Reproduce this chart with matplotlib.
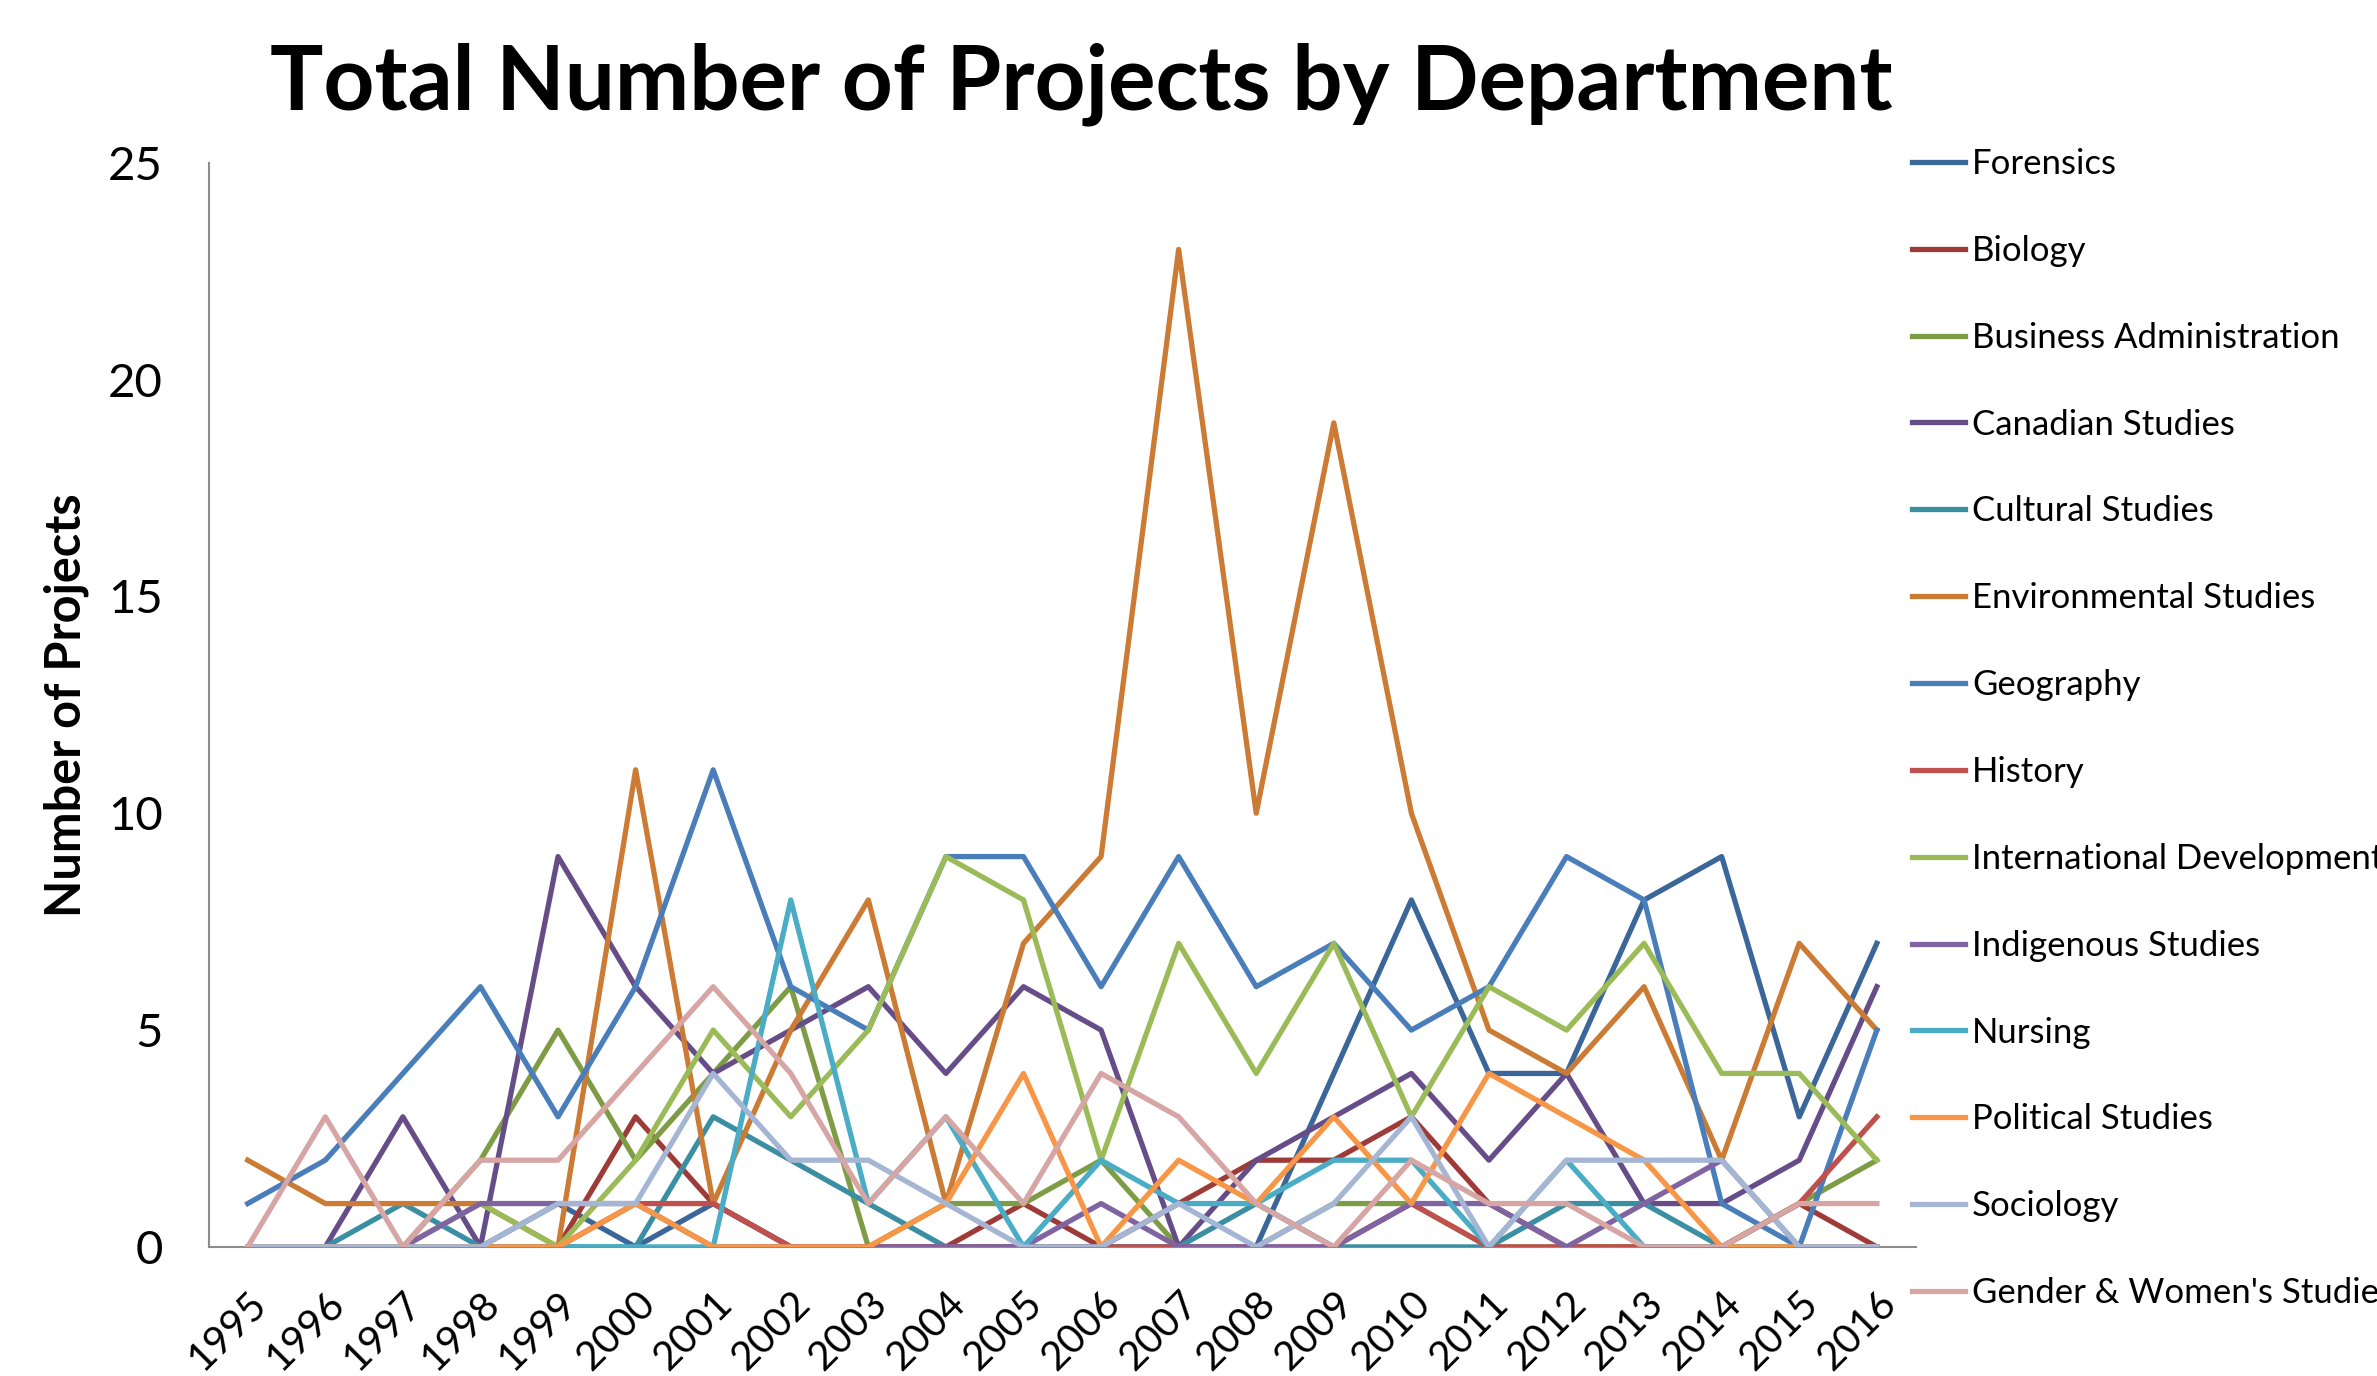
import numpy as np
import matplotlib.pyplot as plt

plt.rcParams['font.family'] = ['Lato', 'DejaVu Sans']

# Years on the category axis
years = ['1995', '1996', '1997', '1998', '1999', '2000', '2001', '2002', '2003', '2004', '2005',
         '2006', '2007', '2008', '2009', '2010', '2011', '2012', '2013', '2014', '2015', '2016']

# Number of projects per department
forensics     = [0, 0, 0, 0, 1, 0, 1, 0, 0, 0, 0, 0, 0, 0, 4, 8, 4, 4, 8, 9, 3, 7]
biology       = [0, 0, 0, 0, 0, 3, 1, 0, 0, 0, 1, 0, 1, 2, 2, 3, 1, 0, 0, 0, 1, 0]
business      = [0, 0, 0, 2, 5, 2, 4, 6, 0, 1, 1, 2, 0, 0, 1, 1, 0, 0, 0, 0, 1, 2]
canadian      = [0, 0, 3, 0, 9, 6, 4, 5, 6, 4, 6, 5, 0, 2, 3, 4, 2, 4, 1, 1, 2, 6]
cultural      = [0, 0, 1, 0, 0, 0, 3, 2, 1, 0, 0, 0, 0, 1, 0, 0, 0, 1, 1, 0, 0, 0]
environmental = [2, 1, 1, 1, 0, 11, 1, 5, 8, 1, 7, 9, 23, 10, 19, 10, 5, 4, 6, 2, 7, 5]
geography     = [1, 2, 4, 6, 3, 6, 11, 6, 5, 9, 9, 6, 9, 6, 7, 5, 6, 9, 8, 1, 0, 5]
history       = [0, 0, 0, 0, 0, 1, 1, 0, 0, 0, 0, 0, 0, 0, 0, 1, 0, 0, 0, 0, 1, 3]
intl_dev      = [0, 0, 0, 1, 0, 2, 5, 3, 5, 9, 8, 2, 7, 4, 7, 3, 6, 5, 7, 4, 4, 2]
indigenous    = [0, 0, 0, 1, 1, 1, 0, 0, 0, 0, 0, 1, 0, 0, 0, 1, 1, 0, 1, 2, 0, 0]
nursing       = [0, 0, 0, 0, 0, 0, 0, 8, 1, 3, 0, 2, 1, 1, 2, 2, 0, 2, 0, 0, 0, 0]
political     = [0, 0, 0, 0, 0, 1, 0, 0, 0, 1, 4, 0, 2, 1, 3, 1, 4, 3, 2, 0, 0, 0]
sociology     = [0, 0, 0, 0, 1, 1, 4, 2, 2, 1, 0, 0, 1, 0, 1, 3, 0, 2, 2, 2, 0, 0]
gender        = [0, 3, 0, 2, 2, 4, 6, 4, 1, 3, 1, 4, 3, 1, 0, 2, 1, 1, 0, 0, 1, 1]

departments = ['Forensics', 'Biology', 'Business Administration', 'Canadian Studies',
               'Cultural Studies', 'Environmental Studies', 'Geography', 'History',
               'International Development', 'Indigenous Studies', 'Nursing',
               'Political Studies', 'Sociology', "Gender & Women's Studies"]
series = [forensics, biology, business, canadian, cultural, environmental, geography,
          history, intl_dev, indigenous, nursing, political, sociology, gender]
colors = ['#3B6699', '#9E3B38', '#7E9C45', '#664D88', '#3A8FA2', '#CC7B34', '#4A7EBB',
          '#C0504D', '#9BBB59', '#8064A2', '#4BACC6', '#F79646', '#A5B6D4', '#D6A5A4']

fig = plt.figure(figsize=(23.77, 13.76), dpi=100)
ax = fig.add_axes([0.0879, 0.0938, 0.718, 0.788])

x = np.arange(len(years))
for name, vals, col in zip(departments, series, colors):
    ax.plot(x, vals, color=col, lw=3.8, label=name, zorder=3)

ax.set_xlim(-0.5, len(years) - 0.5)
ax.set_ylim(0, 25)
ax.set_yticks([0, 5, 10, 15, 20, 25])
ax.set_xticks(x)
ax.set_xticklabels(years, rotation=45, ha='right', rotation_mode='anchor')
ax.tick_params(axis='y', length=0, pad=33, labelsize=34)
ax.tick_params(axis='x', length=0, pad=27, labelsize=29)

for side in ['top', 'right']:
    ax.spines[side].set_visible(False)
for side in ['left', 'bottom']:
    ax.spines[side].set_color('#8C8C8C')
    ax.spines[side].set_linewidth(1.5)

ax.set_ylabel('Number of Projects', fontsize=35, fontweight='bold', labelpad=14)
fig.text(1081 / 2377, 1 - 84 / 1376, 'Total Number of Projects by Department',
         fontsize=64, fontweight='bold', ha='center', va='center')

ax.legend(loc='upper left', bbox_to_anchor=(1912 / 2377, 1 - 148 / 1376),
          bbox_transform=fig.transFigure, frameon=False, fontsize=25,
          handlelength=1.53, handletextpad=0.2, labelspacing=1.58,
          borderpad=0, borderaxespad=0)

fig.savefig('out.png', dpi=100)
